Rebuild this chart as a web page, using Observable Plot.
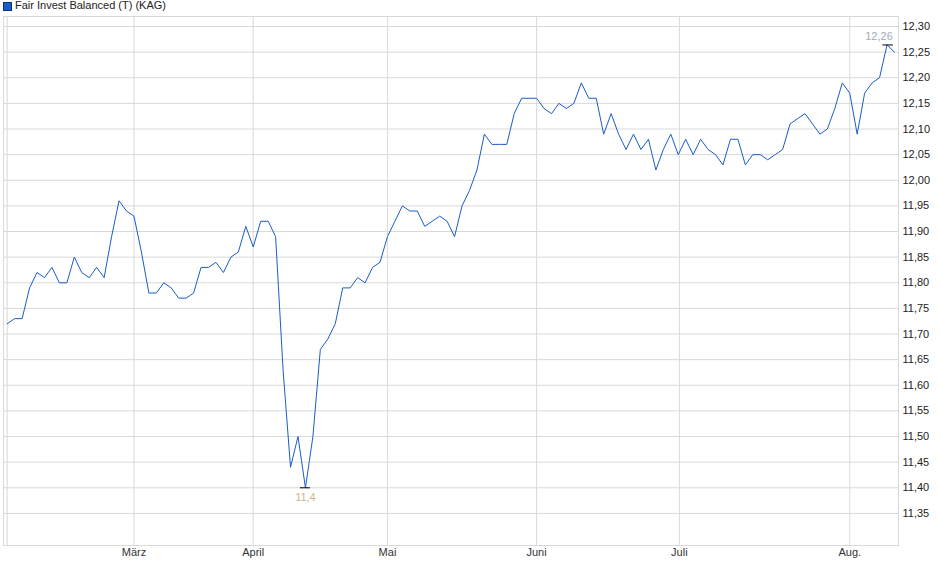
<!DOCTYPE html>
<html>
<head>
<meta charset="utf-8">
<script src="https://cdn.jsdelivr.net/npm/d3@7"></script>
<script src="https://cdn.jsdelivr.net/npm/@observablehq/plot@0.6"></script>
<style>
  html, body { margin: 0; padding: 0; background: #fff; }
  #legend { position: relative; height: 14px; font: 11px "Liberation Sans", Arial, sans-serif; color: #222; }
  #legend .sw { position: absolute; left: 3px; top: 2px; width: 7px; height: 7px; background: #1a5cc8; border: 1px solid #0b2f78; }
  #legend .lb { position: absolute; left: 15px; top: -1px; white-space: nowrap; }
  svg { display: block; }
</style>
</head>
<body>
<div id="legend"><span class="sw"></span><span class="lb">Fair Invest Balanced (T) (KAG)</span></div>
<div id="chart"></div>
<script>
const seriesName = "Fair Invest Balanced (T) (KAG)";
const prices = [
  11.72, 11.73, 11.73, 11.79, 11.82, 11.81, 11.83, 11.80, 11.80, 11.85,
  11.82, 11.81, 11.83, 11.81, 11.89, 11.96, 11.94, 11.93, 11.86, 11.78,
  11.78, 11.80, 11.79, 11.77, 11.77, 11.78, 11.83, 11.83, 11.84, 11.82,
  11.85, 11.86, 11.91, 11.87, 11.92, 11.92, 11.89, 11.63, 11.44, 11.50,
  11.40, 11.50, 11.67, 11.69, 11.72, 11.79, 11.79, 11.81, 11.80, 11.83,
  11.84, 11.89, 11.92, 11.95, 11.94, 11.94, 11.91, 11.92, 11.93, 11.92,
  11.89, 11.95, 11.98, 12.02, 12.09, 12.07, 12.07, 12.07, 12.13, 12.16,
  12.16, 12.16, 12.14, 12.13, 12.15, 12.14, 12.15, 12.19, 12.16, 12.16,
  12.09, 12.13, 12.09, 12.06, 12.09, 12.06, 12.08, 12.02, 12.06, 12.09,
  12.05, 12.08, 12.05, 12.08, 12.06, 12.05, 12.03, 12.08, 12.08, 12.03,
  12.05, 12.05, 12.04, 12.05, 12.06, 12.11, 12.12, 12.13, 12.11, 12.09,
  12.10, 12.14, 12.19, 12.17, 12.09, 12.17, 12.19, 12.20, 12.264, 12.25
];
const monthNames = ["März", "April", "Mai", "Juni", "Juli", "Aug."];
const monthPos = [17, 33, 51, 71, 90.15, 113];
const yTicks = [11.35, 11.40, 11.45, 11.50, 11.55, 11.60, 11.65, 11.70, 11.75, 11.80,
                11.85, 11.90, 11.95, 12.00, 12.05, 12.10, 12.15, 12.20, 12.25, 12.30];
const minLabel = "11,4";
const maxLabel = "12,26";

const data = prices.map((v, i) => ({i, v}));
const minPt = data.reduce((a, b) => (b.v < a.v ? b : a));
const maxPt = data.reduce((a, b) => (b.v > a.v ? b : a));
const fmt = d => d.toFixed(2).replace(".", ",");
const grid = "#d9d9d9";

const chart = Plot.plot({
  width: 940,
  height: 565,
  marginTop: 2,
  marginBottom: 34,
  marginLeft: 3,
  marginRight: 42,
  style: { fontFamily: "'Liberation Sans', Arial, sans-serif", fontSize: "11px", background: "#fff", overflow: "visible" },
  x: { domain: [-0.496, 119.54], axis: null },
  y: { domain: [11.2874, 12.3195], axis: null },
  marks: [
    Plot.gridY(yTicks, { stroke: grid, strokeOpacity: 1 }),
    Plot.gridX(monthPos, { stroke: grid, strokeOpacity: 1 }),
    Plot.ruleX([0], { stroke: grid }),
    Plot.frame({ stroke: grid }),
    Plot.axisY(yTicks, { anchor: "right", label: null, tickSize: 0, tickPadding: 4, tickFormat: fmt, fill: "#222", fontSize: 11 }),
    Plot.axisX(monthPos, { anchor: "bottom", label: null, tickSize: 0, tickPadding: 3, tickFormat: d => monthNames[monthPos.indexOf(d)], fill: "#333", fontSize: 11 }),
    Plot.line(data, { x: "i", y: "v", stroke: "#1a5cc8", strokeWidth: 1 }),
    Plot.ruleY([minPt], { y: "v", x1: d => d.i - 0.67, x2: d => d.i + 0.67, stroke: "#000", strokeWidth: 1 }),
    Plot.ruleY([maxPt], { y: "v", x1: d => d.i - 0.55, x2: d => d.i + 0.85, stroke: "#000", strokeWidth: 1 }),
    Plot.text([minPt], { x: "i", y: "v", text: () => minLabel, dy: 10, fill: "#cfb38c", fontSize: 11 }),
    Plot.text([maxPt], { x: "i", y: "v", text: () => maxLabel, dy: -8, dx: -8, fill: "#a6a9b8", fontSize: 11 })
  ]
});
document.getElementById("chart").appendChild(chart);
</script>
</body>
</html>
